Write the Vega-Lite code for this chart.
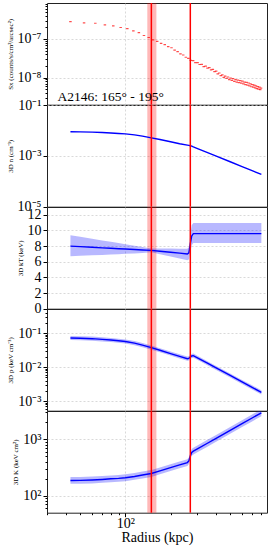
{
  "$schema": "https://vega.github.io/schema/vega-lite/v6.json",
  "padding": {"left": 5, "top": 1, "right": 0, "bottom": 0},
  "autosize": {"type": "pad"},
  "spacing": 0,
  "bounds": "flush",
  "datasets": {
    "band": [{"r": 140, "r2": 161}],
    "edges": [{"r": 149}, {"r": 271}],
    "label": [{"r": 35.2, "sx": 2.45e-9, "t": "A2146: 165° - 195°"}],
    "sx": [
      {"r": 43, "sx": 2.81e-7}, {"r": 53, "sx": 2.62e-7}, {"r": 63, "sx": 2.55e-7}, {"r": 73, "sx": 2.31e-7},
      {"r": 83, "sx": 2.18e-7}, {"r": 93, "sx": 1.98e-7}, {"r": 103, "sx": 1.85e-7}, {"r": 113, "sx": 1.62e-7},
      {"r": 123, "sx": 1.46e-7}, {"r": 133, "sx": 1.23e-7}, {"r": 143, "sx": 1.09e-7}, {"r": 153, "sx": 9.42e-8},
      {"r": 163, "sx": 8.69e-8}, {"r": 173, "sx": 7.67e-8}, {"r": 183, "sx": 7.18e-8}, {"r": 193, "sx": 6.32e-8},
      {"r": 203, "sx": 5.93e-8}, {"r": 213, "sx": 5.12e-8}, {"r": 223, "sx": 4.73e-8}, {"r": 233, "sx": 4.14e-8},
      {"r": 243, "sx": 3.85e-8}, {"r": 253, "sx": 3.37e-8}, {"r": 263, "sx": 3.16e-8}, {"r": 273, "sx": 2.80e-8},
      {"r": 283, "sx": 2.76e-8}, {"r": 293, "sx": 2.44e-8}, {"r": 303, "sx": 2.46e-8}, {"r": 313, "sx": 2.19e-8},
      {"r": 323, "sx": 2.21e-8}, {"r": 333, "sx": 1.93e-8}, {"r": 343, "sx": 1.98e-8}, {"r": 353, "sx": 1.76e-8},
      {"r": 363, "sx": 1.81e-8}, {"r": 373, "sx": 1.58e-8}, {"r": 383, "sx": 1.63e-8}, {"r": 393, "sx": 1.43e-8},
      {"r": 403, "sx": 1.47e-8}, {"r": 413, "sx": 1.25e-8}, {"r": 423, "sx": 1.32e-8}, {"r": 433, "sx": 1.13e-8},
      {"r": 443, "sx": 1.18e-8}, {"r": 453, "sx": 1.02e-8}, {"r": 463, "sx": 1.10e-8}, {"r": 473, "sx": 9.53e-9},
      {"r": 483, "sx": 1.04e-8}, {"r": 493, "sx": 8.91e-9}, {"r": 503, "sx": 9.73e-9}, {"r": 513, "sx": 8.49e-9},
      {"r": 523, "sx": 9.42e-9}, {"r": 533, "sx": 8.04e-9}, {"r": 543, "sx": 8.85e-9}, {"r": 553, "sx": 7.64e-9},
      {"r": 563, "sx": 8.65e-9}, {"r": 573, "sx": 7.45e-9}, {"r": 583, "sx": 8.38e-9}, {"r": 593, "sx": 7.26e-9},
      {"r": 603, "sx": 8.18e-9}, {"r": 613, "sx": 6.92e-9}, {"r": 623, "sx": 7.71e-9}, {"r": 633, "sx": 6.61e-9},
      {"r": 643, "sx": 7.53e-9}, {"r": 653, "sx": 6.41e-9}, {"r": 663, "sx": 7.28e-9}, {"r": 673, "sx": 6.15e-9},
      {"r": 683, "sx": 6.92e-9}, {"r": 693, "sx": 5.82e-9}, {"r": 703, "sx": 6.59e-9}, {"r": 713, "sx": 5.66e-9},
      {"r": 723, "sx": 6.44e-9}, {"r": 733, "sx": 5.43e-9}, {"r": 743, "sx": 6.12e-9}, {"r": 753, "sx": 5.20e-9},
      {"r": 763, "sx": 5.87e-9}, {"r": 773, "sx": 5.04e-9}, {"r": 783, "sx": 5.68e-9}, {"r": 793, "sx": 4.91e-9},
      {"r": 803, "sx": 5.35e-9}
    ],
    "prof": [
      {"r": 43, "n": 0.0089, "kT": 8.0, "kTlo": 6.7, "kThi": 9.4, "p": 0.0725, "plo": 0.0631, "phi": 0.0834, "K": 186, "Klo": 162, "Khi": 214},
      {"r": 50, "n": 0.0088, "kT": 7.93, "kTlo": 6.76, "kThi": 9.19, "p": 0.0712, "plo": 0.0619, "phi": 0.0819, "K": 187, "Klo": 163, "Khi": 215},
      {"r": 60, "n": 0.0086, "kT": 7.85, "kTlo": 6.82, "kThi": 8.94, "p": 0.069, "plo": 0.06, "phi": 0.0794, "K": 190, "Klo": 165, "Khi": 219},
      {"r": 70, "n": 0.0083, "kT": 7.78, "kTlo": 6.88, "kThi": 8.73, "p": 0.066, "plo": 0.0574, "phi": 0.0759, "K": 194, "Klo": 169, "Khi": 223},
      {"r": 80, "n": 0.0079, "kT": 7.72, "kTlo": 6.93, "kThi": 8.55, "p": 0.063, "plo": 0.0548, "phi": 0.0725, "K": 199, "Klo": 173, "Khi": 229},
      {"r": 90, "n": 0.0076, "kT": 7.67, "kTlo": 6.97, "kThi": 8.39, "p": 0.06, "plo": 0.0522, "phi": 0.069, "K": 203, "Klo": 177, "Khi": 233},
      {"r": 100, "n": 0.0073, "kT": 7.63, "kTlo": 7.01, "kThi": 8.24, "p": 0.0568, "plo": 0.0494, "phi": 0.0653, "K": 208, "Klo": 181, "Khi": 239},
      {"r": 115, "n": 0.0067, "kT": 7.56, "kTlo": 7.07, "kThi": 8.05, "p": 0.051, "plo": 0.0444, "phi": 0.0587, "K": 219, "Klo": 191, "Khi": 252},
      {"r": 130, "n": 0.006, "kT": 7.51, "kTlo": 7.11, "kThi": 7.89, "p": 0.0447, "plo": 0.0389, "phi": 0.0514, "K": 232, "Klo": 202, "Khi": 267},
      {"r": 149, "n": 0.0051, "kT": 7.45, "kTlo": 7.2, "kThi": 7.7, "p": 0.0377, "plo": 0.0328, "phi": 0.0434, "K": 247, "Klo": 215, "Khi": 284},
      {"r": 170, "n": 0.0044, "kT": 7.34, "kTlo": 6.96, "kThi": 7.69, "p": 0.0315, "plo": 0.0274, "phi": 0.0362, "K": 275, "Klo": 239, "Khi": 316},
      {"r": 200, "n": 0.0036, "kT": 7.21, "kTlo": 6.67, "kThi": 7.68, "p": 0.0252, "plo": 0.0219, "phi": 0.029, "K": 314, "Klo": 273, "Khi": 361},
      {"r": 230, "n": 0.003, "kT": 7.1, "kTlo": 6.41, "kThi": 7.66, "p": 0.0208, "plo": 0.0181, "phi": 0.0239, "K": 352, "Klo": 306, "Khi": 405},
      {"r": 259, "n": 0.00265, "kT": 7.0, "kTlo": 6.2, "kThi": 7.65, "p": 0.0178, "plo": 0.0155, "phi": 0.0205, "K": 386, "Klo": 336, "Khi": 444},
      {"r": 265, "n": 0.00258, "kT": 7.15, "kTlo": 6.3, "kThi": 7.9, "p": 0.0182, "plo": 0.0158, "phi": 0.0209, "K": 414, "Klo": 360, "Khi": 476},
      {"r": 271, "n": 0.0025, "kT": 8.3, "kTlo": 7.2, "kThi": 9.5, "p": 0.02, "plo": 0.0174, "phi": 0.023, "K": 507, "Klo": 441, "Khi": 583},
      {"r": 277, "n": 0.0024, "kT": 9.3, "kTlo": 8.1, "kThi": 10.7, "p": 0.0213, "plo": 0.0185, "phi": 0.0245, "K": 585, "Klo": 509, "Khi": 673},
      {"r": 284, "n": 0.00225, "kT": 9.6, "kTlo": 8.4, "kThi": 10.95, "p": 0.0218, "plo": 0.019, "phi": 0.0251, "K": 614, "Klo": 534, "Khi": 706},
      {"r": 300, "n": 0.00197, "kT": 9.6, "kTlo": 8.4, "kThi": 10.95, "p": 0.0192, "plo": 0.0167, "phi": 0.0221, "K": 667, "Klo": 580, "Khi": 767},
      {"r": 350, "n": 0.00137, "kT": 9.6, "kTlo": 8.4, "kThi": 10.95, "p": 0.0133, "plo": 0.0116, "phi": 0.0153, "K": 840, "Klo": 731, "Khi": 966},
      {"r": 400, "n": 0.00099, "kT": 9.6, "kTlo": 8.4, "kThi": 10.95, "p": 0.00966, "plo": 0.0084, "phi": 0.0111, "K": 1027, "Klo": 894, "Khi": 1181},
      {"r": 500, "n": 0.000585, "kT": 9.6, "kTlo": 8.4, "kThi": 10.95, "p": 0.0057, "plo": 0.00496, "phi": 0.00656, "K": 1435, "Klo": 1248, "Khi": 1650},
      {"r": 600, "n": 0.00038, "kT": 9.6, "kTlo": 8.4, "kThi": 10.95, "p": 0.00368, "plo": 0.0032, "phi": 0.00423, "K": 1885, "Klo": 1640, "Khi": 2168},
      {"r": 700, "n": 0.000262, "kT": 9.6, "kTlo": 8.4, "kThi": 10.95, "p": 0.00255, "plo": 0.00222, "phi": 0.00293, "K": 2377, "Klo": 2068, "Khi": 2734},
      {"r": 807, "n": 0.000186, "kT": 9.6, "kTlo": 8.4, "kThi": 10.95, "p": 0.00182, "plo": 0.00158, "phi": 0.00209, "K": 2940, "Klo": 2558, "Khi": 3381}
    ]
  },
  "vconcat": [
    {
      "width": 220, "height": 101.7,
      "layer": [
        {"data": {"name": "band"}, "mark": {"type": "rect", "color": "#ff0000", "opacity": 0.28},
         "encoding": {"x": {"field": "r", "type": "quantitative", "scale": {"type": "log", "domain": [30, 880], "nice": false}, "axis": {"values": [100], "labels": false, "ticks": false, "title": null}}, "x2": {"field": "r2"}}},
        {"data": {"name": "sx"}, "mark": {"type": "tick", "orient": "horizontal", "size": 2.5, "thickness": 1.2, "color": "#ff0000", "clip": true},
         "encoding": {
           "x": {"field": "r", "type": "quantitative", "scale": {"type": "log", "domain": [30, 880], "nice": false}},
           "y": {"field": "sx", "type": "quantitative", "scale": {"type": "log", "domain": [2e-9, 8.5e-7], "nice": false},
                 "axis": {"title": "Sx (counts/s/cm²/arcsec²)", "labelOverlap": false,
                          "values": [3e-9,4e-9,5e-9,6e-9,7e-9,8e-9,9e-9,1e-8,2e-8,3e-8,4e-8,5e-8,6e-8,7e-8,8e-8,9e-8,1e-7,2e-7,3e-7,4e-7,5e-7,6e-7,7e-7,8e-7],
                          "labelExpr": "datum.value==1e-8?'10⁻⁸':datum.value==1e-7?'10⁻⁷':''",
                          "labelFontSize": {"condition": {"test": "datum.value==1e-8||datum.value==1e-7", "value": 14}, "value": 1},
                          "tickSize": {"condition": {"test": "datum.value==1e-8||datum.value==1e-7", "value": 4}, "value": 2},
                          "gridOpacity": {"condition": {"test": "datum.value==1e-8||datum.value==1e-7", "value": 1}, "value": 0}}}}},
        {"data": {"name": "edges"}, "mark": {"type": "rule", "color": "#ff0000", "strokeWidth": 1.5},
         "encoding": {"x": {"field": "r", "type": "quantitative", "scale": {"type": "log", "domain": [30, 880], "nice": false}}}},
        {"data": {"name": "label"}, "mark": {"type": "text", "align": "left", "baseline": "alphabetic", "font": "Liberation Serif", "fontSize": 13.5, "color": "#000"},
         "encoding": {"x": {"field": "r", "type": "quantitative", "scale": {"type": "log", "domain": [30, 880], "nice": false}},
                      "y": {"field": "sx", "type": "quantitative", "scale": {"type": "log", "domain": [2e-9, 8.5e-7], "nice": false}},
                      "text": {"field": "t"}}}
      ]
    },
    {
      "width": 220, "height": 101.7,
      "layer": [
        {"data": {"name": "band"}, "mark": {"type": "rect", "color": "#ff0000", "opacity": 0.28},
         "encoding": {"x": {"field": "r", "type": "quantitative", "scale": {"type": "log", "domain": [30, 880], "nice": false}, "axis": {"values": [100], "labels": false, "ticks": false, "title": null}}, "x2": {"field": "r2"}}},
        {"data": {"name": "prof"}, "mark": {"type": "line", "color": "#0000ff", "strokeWidth": 1.4, "clip": true},
         "encoding": {
           "x": {"field": "r", "type": "quantitative", "scale": {"type": "log", "domain": [30, 880], "nice": false}},
           "y": {"field": "n", "type": "quantitative", "scale": {"type": "log", "domain": [1e-5, 0.1], "nice": false},
                 "axis": {"title": "3D n (cm⁻³)", "values": [1e-5, 1e-3, 0.1], "labelOverlap": false,
                          "labelExpr": "datum.value==1e-5?'10⁻⁵':datum.value==1e-3?'10⁻³':'10⁻¹'"}}}},
        {"data": {"name": "edges"}, "mark": {"type": "rule", "color": "#ff0000", "strokeWidth": 1.5},
         "encoding": {"x": {"field": "r", "type": "quantitative", "scale": {"type": "log", "domain": [30, 880], "nice": false}}}}
      ]
    },
    {
      "width": 220, "height": 101.7,
      "layer": [
        {"data": {"name": "band"}, "mark": {"type": "rect", "color": "#ff0000", "opacity": 0.28},
         "encoding": {"x": {"field": "r", "type": "quantitative", "scale": {"type": "log", "domain": [30, 880], "nice": false}, "axis": {"values": [100], "labels": false, "ticks": false, "title": null}}, "x2": {"field": "r2"}}},
        {"data": {"name": "prof"}, "mark": {"type": "area", "color": "#0000ff", "opacity": 0.28, "clip": true},
         "encoding": {
           "x": {"field": "r", "type": "quantitative", "scale": {"type": "log", "domain": [30, 880], "nice": false}},
           "y": {"field": "kTlo", "type": "quantitative", "scale": {"type": "linear", "domain": [0, 13], "nice": false},
                 "axis": {"title": "3D kT (keV)", "values": [0, 2, 4, 6, 8, 10, 12], "format": "d", "labelOverlap": false, "labelBound": false, "labelColor": "#000", "labelFontSize": 14, "grid": true, "gridOpacity": 1, "tickSize": 4}},
           "y2": {"field": "kThi"}}},
        {"data": {"name": "prof"}, "mark": {"type": "line", "color": "#0000ff", "strokeWidth": 1.4, "clip": true},
         "encoding": {
           "x": {"field": "r", "type": "quantitative", "scale": {"type": "log", "domain": [30, 880], "nice": false}},
           "y": {"field": "kT", "type": "quantitative", "scale": {"type": "linear", "domain": [0, 13], "nice": false},
                 "axis": {"title": "3D kT (keV)", "values": [0, 2, 4, 6, 8, 10, 12], "format": "d", "labelOverlap": false, "labelBound": false, "labelColor": "#000", "labelFontSize": 14, "grid": true, "gridOpacity": 1, "tickSize": 4}}}},
        {"data": {"name": "edges"}, "mark": {"type": "rule", "color": "#ff0000", "strokeWidth": 1.5},
         "encoding": {"x": {"field": "r", "type": "quantitative", "scale": {"type": "log", "domain": [30, 880], "nice": false}}}}
      ]
    },
    {
      "width": 220, "height": 101.7,
      "layer": [
        {"data": {"name": "band"}, "mark": {"type": "rect", "color": "#ff0000", "opacity": 0.28},
         "encoding": {"x": {"field": "r", "type": "quantitative", "scale": {"type": "log", "domain": [30, 880], "nice": false}, "axis": {"values": [100], "labels": false, "ticks": false, "title": null}}, "x2": {"field": "r2"}}},
        {"data": {"name": "prof"}, "mark": {"type": "area", "color": "#0000ff", "opacity": 0.28, "clip": true},
         "encoding": {
           "x": {"field": "r", "type": "quantitative", "scale": {"type": "log", "domain": [30, 880], "nice": false}},
           "y": {"field": "plo", "type": "quantitative", "scale": {"type": "log", "domain": [0.000525, 0.515], "nice": false},
                 "axis": {"title": "3D p (keV cm⁻³)", "labelOverlap": false,
                          "values": [0.0006,0.0007,0.0008,0.0009,0.001,0.002,0.003,0.004,0.005,0.006,0.007,0.008,0.009,0.01,0.02,0.03,0.04,0.05,0.06,0.07,0.08,0.09,0.1,0.2,0.3,0.4,0.5],
                          "labelExpr": "datum.value==0.001?'10⁻³':datum.value==0.01?'10⁻²':datum.value==0.1?'10⁻¹':''",
                          "labelFontSize": {"condition": {"test": "datum.value==0.001||datum.value==0.01||datum.value==0.1", "value": 14}, "value": 1},
                          "tickSize": {"condition": {"test": "datum.value==0.001||datum.value==0.01||datum.value==0.1", "value": 4}, "value": 2},
                          "gridOpacity": {"condition": {"test": "datum.value==0.001||datum.value==0.01||datum.value==0.1", "value": 1}, "value": 0}}},
           "y2": {"field": "phi"}}},
        {"data": {"name": "prof"}, "mark": {"type": "line", "color": "#0000ff", "strokeWidth": 1.4, "clip": true},
         "encoding": {
           "x": {"field": "r", "type": "quantitative", "scale": {"type": "log", "domain": [30, 880], "nice": false}},
           "y": {"field": "p", "type": "quantitative", "scale": {"type": "log", "domain": [0.000525, 0.515], "nice": false}}}},
        {"data": {"name": "edges"}, "mark": {"type": "rule", "color": "#ff0000", "strokeWidth": 1.5},
         "encoding": {"x": {"field": "r", "type": "quantitative", "scale": {"type": "log", "domain": [30, 880], "nice": false}}}}
      ]
    },
    {
      "width": 220, "height": 101.7,
      "layer": [
        {"data": {"name": "band"}, "mark": {"type": "rect", "color": "#ff0000", "opacity": 0.28},
         "encoding": {"x": {"field": "r", "type": "quantitative", "scale": {"type": "log", "domain": [30, 880], "nice": false},
                            "axis": {"title": "Radius (kpc)", "titleFont": "Liberation Serif", "titleFontWeight": "normal", "titleFontSize": 14,
                                     "labelFont": "Liberation Serif", "labelFontSize": 14, "titlePadding": 0, "labelPadding": 0,
                                     "values": [30,40,50,60,70,80,90,100,200,300,400,500,600,700,800],
                                     "labelExpr": "datum.value==100?'10²':''", "labelOverlap": false,
                                     "tickSize": {"condition": {"test": "datum.value==100", "value": 4}, "value": 2},
                                     "gridOpacity": {"condition": {"test": "datum.value==100", "value": 1}, "value": 0}}},
                  "x2": {"field": "r2"}}},
        {"data": {"name": "prof"}, "mark": {"type": "area", "color": "#0000ff", "opacity": 0.28, "clip": true},
         "encoding": {
           "x": {"field": "r", "type": "quantitative", "scale": {"type": "log", "domain": [30, 880], "nice": false}},
           "y": {"field": "Klo", "type": "quantitative", "scale": {"type": "log", "domain": [50, 3160], "nice": false},
                 "axis": {"title": "3D K (keV cm²)", "labelOverlap": false,
                          "values": [60,70,80,90,100,200,300,400,500,600,700,800,900,1000,2000,3000],
                          "labelExpr": "datum.value==100?'10²':datum.value==1000?'10³':''",
                          "labelFontSize": {"condition": {"test": "datum.value==100||datum.value==1000", "value": 14}, "value": 1},
                          "tickSize": {"condition": {"test": "datum.value==100||datum.value==1000", "value": 4}, "value": 2},
                          "gridOpacity": {"condition": {"test": "datum.value==100||datum.value==1000", "value": 1}, "value": 0}}},
           "y2": {"field": "Khi"}}},
        {"data": {"name": "prof"}, "mark": {"type": "line", "color": "#0000ff", "strokeWidth": 1.4, "clip": true},
         "encoding": {
           "x": {"field": "r", "type": "quantitative", "scale": {"type": "log", "domain": [30, 880], "nice": false}},
           "y": {"field": "K", "type": "quantitative", "scale": {"type": "log", "domain": [50, 3160], "nice": false}}}},
        {"data": {"name": "edges"}, "mark": {"type": "rule", "color": "#ff0000", "strokeWidth": 1.5},
         "encoding": {"x": {"field": "r", "type": "quantitative", "scale": {"type": "log", "domain": [30, 880], "nice": false}}}}
      ]
    }
  ],
  "config": {
    "view": {"stroke": "#222", "strokeWidth": 1},
    "axis": {"labelFont": "Liberation Serif", "titleFont": "Liberation Serif", "labelColor": "#000", "titleColor": "#000",
             "tickColor": "#000", "domain": false, "gridColor": "#c8c8c8", "gridDash": [2, 2], "gridWidth": 0.7,
             "titleFontWeight": "normal", "labelOverlap": false},
    "axisY": {"labelFontSize": 14, "titleFontSize": 7, "tickSize": 4, "labelPadding": 2, "titlePadding": 4},
    "axisX": {"labelFontSize": 14, "titleFontSize": 14, "labelFlush": false, "tickSize": 4, "labelPadding": 1, "titlePadding": 2}
  }
}
